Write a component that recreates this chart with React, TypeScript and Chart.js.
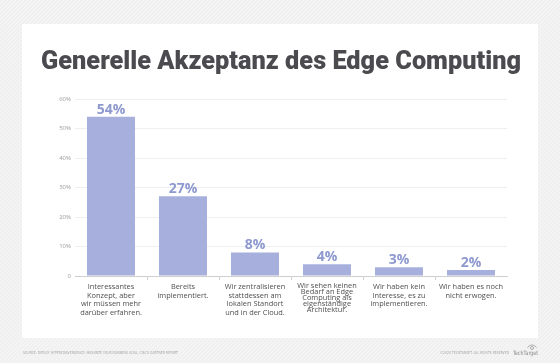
import React, { useEffect, useRef } from "react";
import { Chart, registerables } from "chart.js";

Chart.register(...registerables);

const TITLE = "Generelle Akzeptanz des Edge Computing";
const CATEGORIES: string[][] = [
  ["Interessantes", "Konzept, aber", "wir müssen mehr", "darüber erfahren."],
  ["Bereits", "implementiert."],
  ["Wir zentralisieren", "stattdessen am", "lokalen Standort", "und in der Cloud."],
  ["Wir sehen keinen", "Bedarf an Edge", "Computing als", "eigenständige", "Architektur."],
  ["Wir haben kein", "Interesse, es zu", "implementieren."],
  ["Wir haben es noch", "nicht erwogen."],
];
const VALUES: number[] = [54, 27, 8, 4, 3, 2];
const Y_TICKS: number[] = [0, 10, 20, 30, 40, 50, 60];
const SOURCE_TEXT = "SOURCE: DEPLOY HYPERCONVERGENCE: MAXIMIZE YOUR BUSINESS GOAL, CISCO GARTNER REPORT";
const COPYRIGHT_TEXT = "©2020 TECHTARGET. ALL RIGHTS RESERVED";
const LOGO_TEXT = "TechTarget";

const BAR_COLOR = "#a7b0dc";
const LABEL_COLOR = "#8e99cf";
const TEXT_COLOR = "#4a4a4f";

const decorPlugin = {
  id: "decor",
  beforeDraw(chart: any) {
    const ctx = chart.ctx as CanvasRenderingContext2D;
    const W = chart.width;
    const H = chart.height;
    ctx.save();
    ctx.fillStyle = "#efefef";
    ctx.fillRect(0, 0, W, H);
    ctx.strokeStyle = "#f6f6f6";
    ctx.lineWidth = 1.2;
    for (let k = -H; k < W + H; k += 4) {
      ctx.beginPath();
      ctx.moveTo(k, H);
      ctx.lineTo(k + H, 0);
      ctx.stroke();
    }
    ctx.fillStyle = "#ffffff";
    ctx.fillRect(22, 24, 516, 314);

    // title
    ctx.fillStyle = TEXT_COLOR;
    ctx.font = '900 26px Roboto, "Open Sans", sans-serif';
    ctx.textBaseline = "alphabetic";
    ctx.textAlign = "left";
    const w = ctx.measureText(TITLE).width;
    const target = 480;
    ctx.save();
    ctx.translate(41, 69);
    ctx.scale(target / w, 1);
    ctx.fillText(TITLE, 0, 0);
    ctx.restore();

    // footer
    ctx.fillStyle = "#a8a8a8";
    ctx.font = '4px "DejaVu Sans", sans-serif';
    const sw = ctx.measureText(SOURCE_TEXT).width;
    ctx.save();
    ctx.translate(23, 354);
    ctx.scale(155 / sw, 1);
    ctx.fillText(SOURCE_TEXT, 0, 0);
    ctx.restore();
    const cw = ctx.measureText(COPYRIGHT_TEXT).width;
    ctx.save();
    ctx.translate(440, 354);
    ctx.scale(69 / cw, 1);
    ctx.fillText(COPYRIGHT_TEXT, 0, 0);
    ctx.restore();
    ctx.fillStyle = "#8a8a8a";
    ctx.font = '6px "Liberation Sans Narrow", "DejaVu Sans Condensed", sans-serif';
    const lw = ctx.measureText(LOGO_TEXT).width;
    ctx.save();
    ctx.translate(513, 355);
    ctx.scale(25 / lw, 1);
    ctx.fillText(LOGO_TEXT, 0, 0);
    ctx.restore();
    ctx.strokeStyle = "#9a9a9a";
    ctx.lineWidth = 0.8;
    ctx.beginPath();
    ctx.arc(532, 350, 5, Math.PI * 1.15, Math.PI * 1.85);
    ctx.stroke();
    ctx.beginPath();
    ctx.arc(532, 348, 1.5, 0, Math.PI * 2);
    ctx.stroke();
    ctx.restore();
  },
};

const valueLabelPlugin = {
  id: "valueLabels",
  afterDatasetsDraw(chart: any) {
    const ctx = chart.ctx as CanvasRenderingContext2D;
    const meta = chart.getDatasetMeta(0);
    const data = chart.data.datasets[0].data as number[];
    ctx.save();
    ctx.fillStyle = LABEL_COLOR;
    ctx.font = 'bold 14px "Open Sans", sans-serif';
    ctx.textAlign = "center";
    ctx.textBaseline = "alphabetic";
    meta.data.forEach((bar: any, i: number) => {
      ctx.fillText(data[i] + "%", bar.x, bar.y - 3);
    });
    ctx.restore();
  },
};

export default function App() {
  const ref = useRef<HTMLCanvasElement | null>(null);
  useEffect(() => {
    if (!ref.current) return;
    const chart = new Chart(ref.current, {
      type: "bar",
      data: {
        labels: CATEGORIES,
        datasets: [
          {
            data: VALUES,
            backgroundColor: BAR_COLOR,
            borderWidth: 0,
            categoryPercentage: 1,
            barPercentage: 0.667,
          },
        ],
      },
      options: {
        responsive: false,
        animation: false,
        devicePixelRatio: 1,
        layout: { padding: { left: 55, right: 53, top: 99, bottom: 37 } },
        plugins: {
          legend: { display: false },
          tooltip: { enabled: false },
          title: { display: false },
        },
        scales: {
          x: {
            afterFit: (s: any) => {
              s.height = 50;
            },
            border: { display: true, color: "#cfcfcf", width: 1 },
            grid: {
              display: true,
              offset: true,
              drawOnChartArea: false,
              drawTicks: true,
              tickLength: 4,
              color: (c: any) => (c.index > 0 && c.index < CATEGORIES.length ? "#cfcfcf" : "rgba(0,0,0,0)"),
            },
            ticks: {
              padding: 3,
              color: "#4f4f4f",
              maxRotation: 0,
              autoSkip: false,
              font: (c: any) =>
                c.index === 3
                  ? { family: '"Open Sans", sans-serif', size: 7.4, lineHeight: "5.9px" }
                  : { family: '"Open Sans", sans-serif', size: 7.4, lineHeight: "8.5px" },
            },
          },
          y: {
            min: 0,
            max: 60,
            afterFit: (s: any) => {
              s.width = 20;
            },
            afterBuildTicks: (s: any) => {
              s.ticks = Y_TICKS.map((v) => ({ value: v }));
            },
            border: { display: false },
            grid: {
              drawTicks: false,
              color: (c: any) => (c.index === 0 ? "rgba(0,0,0,0)" : "#efefef"),
            },
            ticks: {
              padding: 4,
              color: "#9a9a9a",
              font: { family: '"Open Sans", sans-serif', size: 6 },
              callback: (v: any) => (Number(v) === 0 ? "0" : v + "%"),
            },
          },
        },
      },
      plugins: [decorPlugin, valueLabelPlugin],
    });
    return () => chart.destroy();
  }, []);
  return (
    <div style={{ position: "absolute", left: 0, top: 0, width: 560, height: 363 }}>
      <canvas ref={ref} width={560} height={363} style={{ display: "block" }} />
    </div>
  );
}
